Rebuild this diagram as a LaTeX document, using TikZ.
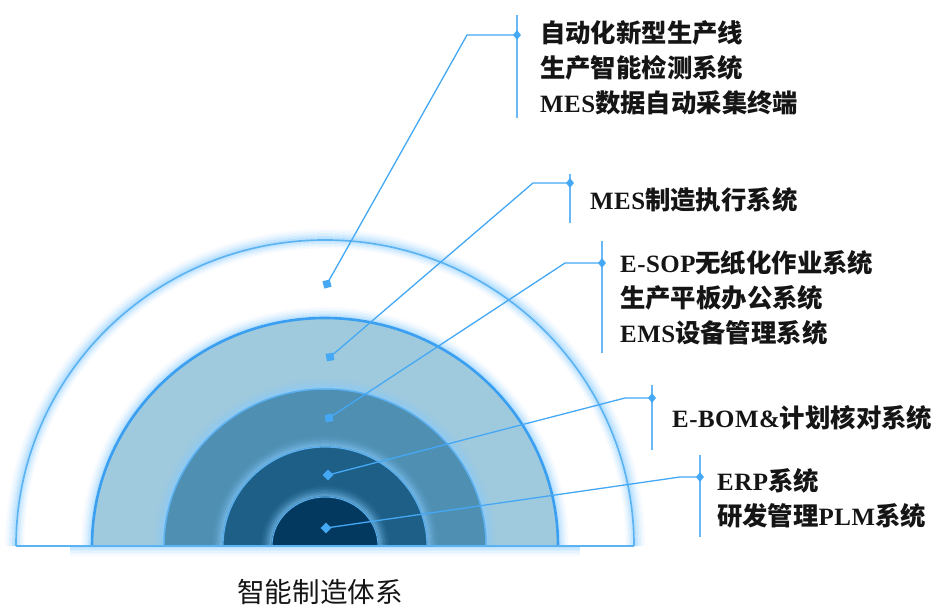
\documentclass[tikz,border=0pt]{standalone}
\usepackage{fontspec}
\setmainfont{Liberation Serif}[Scale=1.06,LetterSpace=2]
\newfontfamily\cjk{Noto Sans CJK SC}[Scale=1.08]
\usetikzlibrary{shapes.geometric}
\definecolor{outerline}{HTML}{5CB3F2}
\definecolor{glowc}{HTML}{86CBFF}
\definecolor{lightfill}{HTML}{9FC9DD}
\definecolor{lightline}{HTML}{3A9FF0}
\definecolor{midfill}{HTML}{4E8FB2}
\definecolor{midline}{HTML}{5AB0F0}
\definecolor{darkfill}{HTML}{1D5F86}
\definecolor{deepfill}{HTML}{03395F}
\definecolor{connc}{HTML}{45A8F5}
\definecolor{txt}{HTML}{151515}
\newcommand\zh[1]{{\cjk #1}}
\newcommand\glowarc[2]{%
  \foreach \k/\o in {1.5/0.55,3/0.42,4.5/0.31,6/0.22,7.5/0.14,9/0.08,10.5/0.04}{%
    \draw[glowc,line width=1.7pt,opacity=\o]
      ({325-#1-\k},546) arc[start angle=180,end angle=0,x radius={#1pt+\k pt},y radius={#2pt+\k pt}];}}
\newcommand\semi[3]{%
  \fill[#3] ({325-#1},546) arc[start angle=180,end angle=0,x radius=#1pt,y radius=#2pt] -- cycle;}
\begin{document}
\begin{tikzpicture}[x=1pt,y=-1pt,
  conn/.style={connc,line width=1.3pt},
  barline/.style={connc!80,line width=1.8pt},
  marker/.style={rectangle,fill=connc,inner sep=0pt,minimum size=7.5pt},
  tip/.style={diamond,fill=connc,inner sep=0pt,minimum width=8pt,minimum height=10pt},
  label/.style={anchor=west,align=left,inner sep=0pt,text=txt,
    font=\fontsize{23.5}{35}\selectfont\bfseries}]
\useasboundingbox (0,0) rectangle (941,607);
\fill[white] (0,0) rectangle (941,607);

% outer band
\glowarc{309}{306}
\semi{309}{306}{white}
\foreach \k/\o in {1.5/0.45,3/0.32,4.5/0.21,6/0.12,7.5/0.06}{%
  \draw[glowc,line width=1.7pt,opacity=\o]
    ({325-309+\k},546) arc[start angle=180,end angle=0,x radius={309pt-\k pt},y radius={306pt-\k pt}];}
\draw[outerline,line width=1.7pt] (16,546) arc[start angle=180,end angle=0,x radius=309pt,y radius=306pt];

% light band
\glowarc{233}{228}
\semi{233}{228}{lightfill}
\draw[lightline,line width=2.6pt] (92,546) arc[start angle=180,end angle=0,x radius=233pt,y radius=228pt];

% mid band
\glowarc{161}{157}
\semi{161}{157}{midfill}
\draw[midline,line width=1.5pt] (164,546) arc[start angle=180,end angle=0,x radius=161pt,y radius=157pt];

% dark band
\glowarc{102}{99}
\semi{102}{99}{darkfill}
\draw[midline,line width=1.2pt] (223,546) arc[start angle=180,end angle=0,x radius=102pt,y radius=99pt];

% deepest
\glowarc{53}{49}
\semi{53}{49}{deepfill}
\draw[midline,line width=1pt] (272,546) arc[start angle=180,end angle=0,x radius=53pt,y radius=49pt];

% base line with glow
\foreach \k/\o in {1.5/0.55,3/0.42,4.5/0.30,6/0.2,7.5/0.12,9/0.06,10.5/0.03}{%
  \draw[glowc,line width=1.7pt,opacity=\o] (70,{546+\k}) -- (580,{546+\k});}
\draw[outerline,line width=2pt] (16,546) -- (634,546);

% markers
\node[marker,rotate=15] (m1) at (327,284) {};
\node[marker,rotate=10] (m2) at (330,357) {};
\node[marker,rotate=10] (m3) at (329,418) {};
\node[marker,rotate=45] (m4) at (328,475) {};
\node[marker,rotate=45] (m5) at (326,528) {};

% elbows
\coordinate (e1) at (467,35);
\coordinate (e2) at (533,183);
\coordinate (e3) at (565,263);
\coordinate (e4) at (625,398);
\coordinate (e5) at (680,477);

% bars
\coordinate (b1t) at (517,15);  \coordinate (b1b) at (517,118);
\coordinate (b2t) at (570,174); \coordinate (b2b) at (570,223);
\coordinate (b3t) at (602,241); \coordinate (b3b) at (602,353);
\coordinate (b4t) at (652,385); \coordinate (b4b) at (652,450);
\coordinate (b5t) at (700,455); \coordinate (b5b) at (700,537);
\draw[barline] (b1t) -- (b1b);
\draw[barline] (b2t) -- (b2b);
\draw[barline] (b3t) -- (b3b);
\draw[barline] (b4t) -- (b4b);
\draw[barline] (b5t) -- (b5b);

\node[tip] (d1) at (517,35) {};
\node[tip] (d2) at (570,183) {};
\node[tip] (d3) at (602,263) {};
\node[tip] (d4) at (652,398) {};
\node[tip] (d5) at (700,477) {};

\draw[conn] (m1.center) -- (e1) -- (d1.center);
\draw[conn] (m2.center) -- (e2) -- (d2.center);
\draw[conn] (m3.center) -- (e3) -- (d3.center);
\draw[conn] (m4.center) -- (e4) -- (d4.center);
\draw[conn] (m5.center) -- (e5) -- (d5.center);

% labels
\node[label] (t1) at (540,68) {\zh{自动化新型生产线}\\ \zh{生产智能检测系统}\\ MES\zh{数据自动采集终端}};
\node[label] (t2) at (590,200) {MES\zh{制造执行系统}};
\node[label] (t3) at (620,298) {E-SOP\zh{无纸化作业系统}\\ \zh{生产平板办公系统}\\ EMS\zh{设备管理系统}};
\node[label] (t4) at (672,418) {E-BOM\&\zh{计划核对系统}};
\node[label] (t5) at (717,498) {ERP\zh{系统}\\ \zh{研发管理}PLM\zh{系统}};

\node[text=txt,inner sep=0pt,font=\fontsize{25.5}{30}\selectfont] (title) at (320,592) {\zh{智能制造体系}};
\end{tikzpicture}
\end{document}
